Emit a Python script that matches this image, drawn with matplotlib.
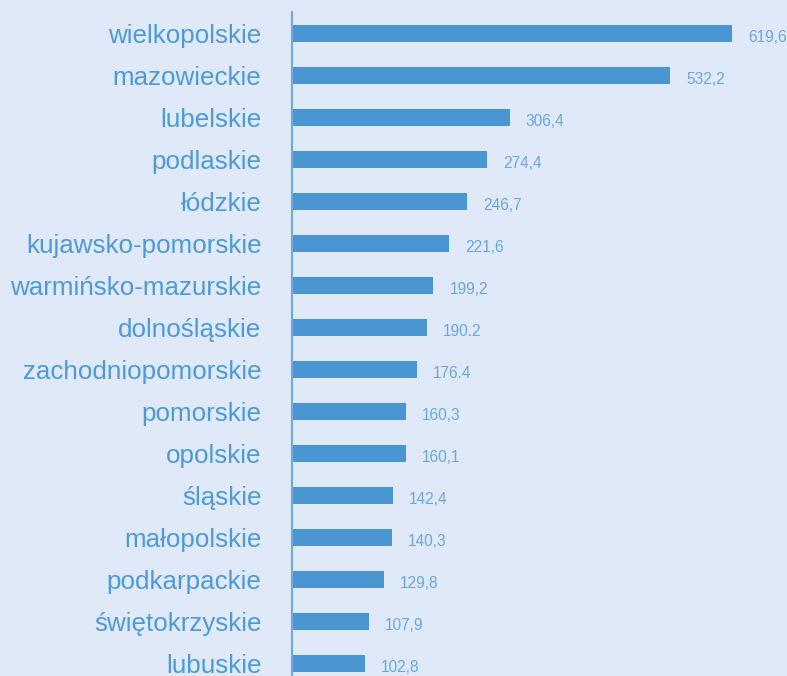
import matplotlib
matplotlib.use("Agg")
import matplotlib.pyplot as plt

regions = ["wielkopolskie", "mazowieckie", "lubelskie", "podlaskie", "łódzkie",
           "kujawsko-pomorskie", "warmińsko-mazurskie", "dolnośląskie",
           "zachodniopomorskie", "pomorskie", "opolskie", "śląskie",
           "małopolskie", "podkarpackie", "świętokrzyskie", "lubuskie"]
values = [619.6, 532.2, 306.4, 274.4, 246.7, 221.6, 199.2, 190.2,
          176.4, 160.3, 160.1, 142.4, 140.3, 129.8, 107.9, 102.8]
# labels as printed in the source (mixed separators)
value_labels = ["619,6", "532,2", "306,4", "274,4", "246,7", "221,6", "199,2", "190.2",
                "176.4", "160,3", "160,1", "142,4", "140,3", "129,8", "107,9", "102,8"]

bg = "#dfe9f7"
bar_color = "#4a96d3"
text_color = "#4d9ad7"
num_color = "#6aa7de"

plt.rcParams['font.family'] = ['Liberation Sans', 'DejaVu Sans']

fig = plt.figure(figsize=(7.87, 6.76), dpi=100, facecolor=bg)
ax = fig.add_axes([292 / 787, 0, 1 - 292 / 787, 1 - 12 / 676])
ax.set_facecolor(bg)

y = list(range(len(regions)))
ax.barh(y, values, height=0.4, color=bar_color)

for yi, v, lab in zip(y, values, value_labels):
    ax.annotate(lab, (v, yi), xytext=(11.5, -3), textcoords="offset points",
                va="center", ha="left", fontsize=11.2, color=num_color)

ax.set_xlim(0, 697)
ax.set_ylim(15.3, -0.512)
ax.set_yticks(y)
ax.set_yticklabels(regions, fontsize=18.7, color=text_color)
ax.tick_params(axis="y", length=0, pad=22)
ax.set_xticks([])

for s in ["top", "right", "bottom"]:
    ax.spines[s].set_visible(False)
ax.spines["left"].set_color("#6fa9de")
ax.spines["left"].set_linewidth(1.5)

fig.savefig("out.png", dpi=100, facecolor=bg)
